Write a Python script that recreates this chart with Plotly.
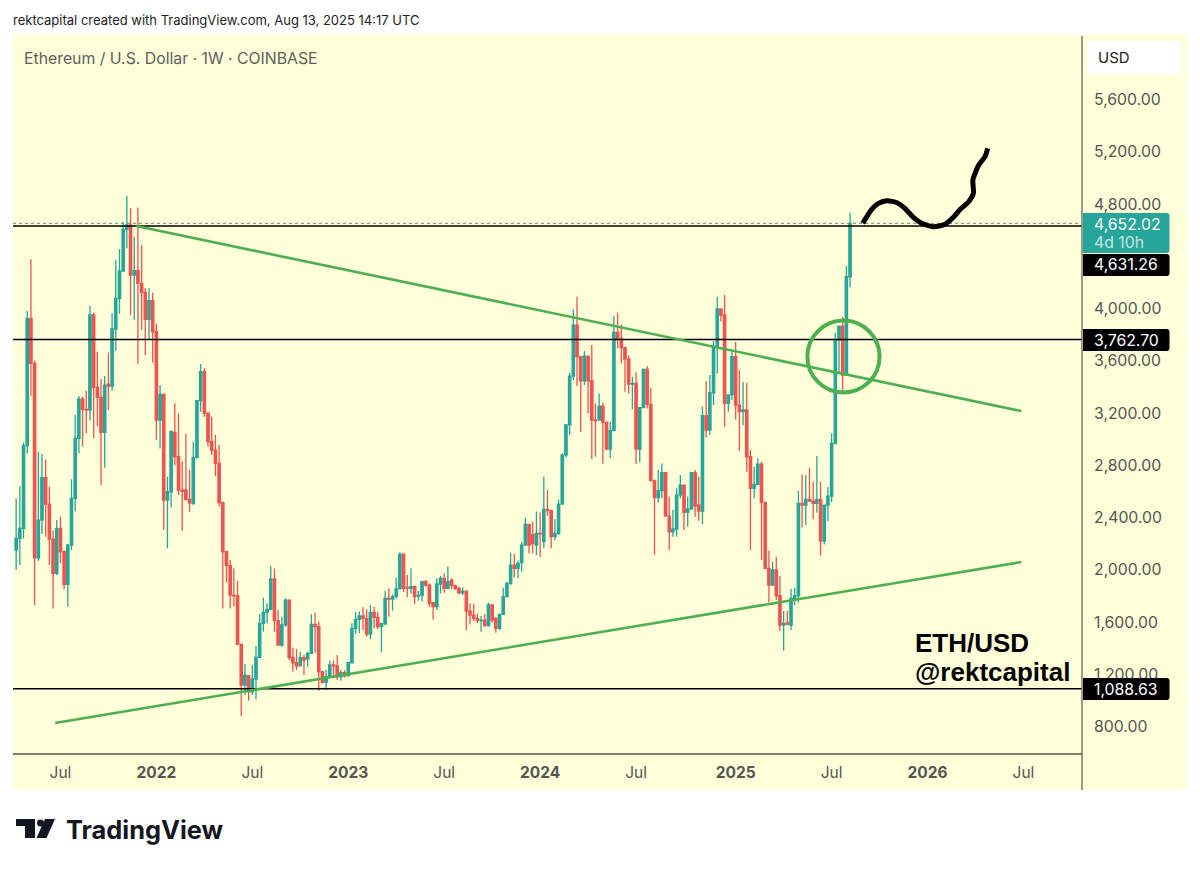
import pandas as pd
import plotly.graph_objects as go

# ETH/USD weekly candles
week_start = pd.date_range('2021-04-12', periods=227, freq='7D')

opens = [2150,2240,2316,2950,3924,3580,2092,2380,2705,2503,2235,1972,2317,2138,1888,2189,2546,3006,3307,3228,
         3222,3950,3396,3320,3052,3421,3406,3843,4077,4287,4606,4638,4256,4289,4192,4123,3917,4060,3822,3146,
         3342,2534,2597,3052,2865,2610,2610,2539,2508,2858,3294,3516,3197,2980,2916,2815,2513,2138,2031,1806,
         1799,1429,1117,1189,1066,1163,1329,1590,1674,1697,1929,1610,1424,1577,1768,1327,1288,1265,1327,1317,
         1360,1582,1564,1220,1138,1181,1271,1263,1181,1212,1187,1288,1551,1620,1646,1628,1508,1674,1636,1564,
         1585,1781,1775,1794,1853,2120,1865,1858,1870,1799,1804,1909,1883,1748,1717,1891,1934,1858,1921,1878,
         1858,1824,1837,1684,1653,1628,1610,1615,1572,1730,1628,1551,1659,1794,1896,2036,2011,2054,2189,2347,
         2266,2189,2279,2215,2462,2452,2253,2279,2503,2878,3108,3483,3873,3631,3447,3636,3447,3146,3146,3253,
         3128,2924,3065,3817,3771,3700,3613,3422,3427,2924,3241,3534,3266,2682,2552,2605,2743,2411,2291,2312,
         2572,2648,2439,2465,2743,2495,2449,3179,3070,3355,3708,3996,3950,3274,3338,3631,3261,3210,3223,2865,
         2623,2654,2809,2516,2010,1883,1998,1801,1577,1595,1577,1781,1801,2508,2495,2539,2526,2508,2539,2220,
         2495,2564,2967,3758,3865,3490,4243]
highs = [2546,2640,2972,3980,4376,3600,2904,2886,2845,2636,2300,2380,2406,2150,2197,2692,3184,3330,3325,3370,
         4021,3968,3669,3460,3483,3664,3963,4371,4455,4664,4861,4767,4550,4774,4486,4154,4154,4121,3886,3414,
         3350,2712,3070,3274,3197,2830,3039,2763,2980,3300,3575,3542,3210,3172,3031,2955,2520,2145,2074,2010,
         1914,1436,1278,1195,1270,1416,1661,1786,1743,2028,2010,1692,1640,1781,1775,1403,1393,1373,1350,1370,
         1659,1671,1602,1225,1232,1304,1304,1347,1235,1230,1295,1590,1674,1680,1712,1697,1730,1717,1679,1595,
         1840,1858,1810,1939,2133,2125,1960,2011,1880,1838,1915,1921,1895,1750,1934,1952,1972,2024,1934,1885,
         1870,1865,1840,1743,1738,1665,1646,1659,1750,1738,1634,1662,1863,1909,2131,2120,2070,2215,2399,2350,
         2368,2445,2439,2712,2610,2460,2386,2534,2891,3116,3509,3993,4090,3636,3674,3640,3720,3274,3350,3279,
         3135,3133,3942,3968,3878,3705,3640,3478,3511,3245,3540,3560,3394,2690,2763,2814,2750,2559,2457,2623,
         2725,2655,2560,2750,2763,2712,3248,3445,3491,3754,4090,4000,4103,3340,3669,3746,3529,3440,3432,2916,
         2789,2853,2827,2520,2146,2062,2100,1952,1684,1686,1852,1865,2605,2730,2725,2781,2674,2870,2674,2500,
         2631,3044,3817,3870,3937,4325,4733]
lows = [2000,2036,2240,2890,3330,1730,2069,2273,2253,2036,1704,1959,2049,1850,1717,2151,2445,2891,2942,3044,
        3141,3006,3100,2648,2781,3223,3370,3674,3960,4287,4460,3950,3912,3575,3835,3644,3764,3585,2993,2929,
        2304,2164,2477,2800,2572,2296,2530,2444,2495,2852,3210,3172,2942,2878,2717,2483,1704,1901,1704,1720,
        1423,880,1041,1000,1041,1008,1329,1526,1590,1690,1526,1420,1411,1564,1310,1220,1232,1265,1194,1258,
        1355,1365,1074,1130,1079,1169,1169,1156,1151,1176,1187,1285,1508,1513,1539,1488,1467,1551,1546,1368,
        1575,1641,1687,1780,1850,1832,1789,1819,1735,1763,1756,1870,1712,1620,1692,1819,1824,1850,1850,1845,
        1812,1807,1539,1582,1607,1590,1526,1563,1564,1595,1518,1539,1654,1789,1883,1940,1934,1985,2185,2126,
        2126,2113,2100,2164,2414,2164,2228,2266,2500,2860,3031,3452,3406,3052,3414,3197,2845,2865,3140,2814,
        2916,2853,3060,3695,3580,3363,3350,3228,2809,2822,3236,3235,2675,2113,2513,2546,2405,2151,2253,2253,
        2546,2304,2330,2460,2406,2375,2350,3013,3031,3261,3503,3900,3095,3210,3300,3151,2911,3108,2751,2151,
        2546,2650,2074,2010,1750,1883,1768,1533,1380,1577,1538,1730,1750,2324,2342,2520,2386,2437,2107,2194,
        2373,2516,2960,3503,3350,3490,4161]
closes = [2240,2316,2950,3924,3580,2092,2380,2705,2503,2235,1972,2317,2138,1888,2189,2546,3006,3307,3228,3222,
          3950,3396,3320,3052,3414,3406,3843,4077,4287,4606,4640,4256,4289,4192,4123,3917,4060,3822,3146,3342,
          2534,2597,3057,2865,2610,2600,2539,2513,2858,3294,3516,3197,2980,2916,2815,2513,2138,2031,1806,1800,
          1429,1117,1194,1066,1163,1329,1590,1674,1697,1929,1610,1424,1577,1768,1327,1288,1265,1326,1309,1360,
          1582,1564,1220,1138,1181,1271,1263,1181,1212,1187,1288,1551,1620,1646,1628,1508,1674,1636,1564,1590,
          1781,1775,1794,1853,2120,1858,1860,1870,1794,1804,1909,1883,1743,1717,1891,1934,1858,1909,1878,1858,
          1824,1837,1684,1653,1628,1610,1615,1572,1730,1615,1551,1659,1794,1896,2036,2011,2049,2189,2347,2189,
          2200,2279,2274,2462,2452,2253,2279,2503,2878,3108,3483,3873,3631,3447,3636,3447,3146,3140,3253,3128,
          2924,3065,3817,3771,3700,3613,3422,3427,2924,3241,3534,3266,2682,2552,2605,2743,2411,2291,2312,2572,
          2648,2439,2465,2743,2488,2449,3179,3070,3355,3708,3996,3950,3274,3338,3631,3261,3210,3223,2865,2623,
          2654,2809,2516,2010,1883,1998,1801,1577,1589,1582,1781,1801,2508,2495,2539,2526,2508,2539,2220,2495,
          2564,2967,3758,3865,3490,4243,4652.02]

# levels and drawings
level_top = 4631.26
level_mid = 3762.70
level_low = 1088.63
last_price = 4652.02

upper_trend_dates = ['2021-11-26', '2026-07-02']
upper_trend_prices = [4631, 3215]
lower_trend_dates = ['2021-06-25', '2026-07-02']
lower_trend_prices = [827, 2059]

squiggle_dates = ['2025-09-04', '2025-09-21', '2025-10-04', '2025-10-20', '2025-11-08', '2025-11-23',
                  '2025-12-09', '2025-12-25', '2026-01-16', '2026-02-07', '2026-02-23', '2026-03-08',
                  '2026-03-24', '2026-04-02', '2026-04-01', '2026-04-12', '2026-04-24', '2026-04-29']
squiggle_prices = [4652, 4759, 4805, 4825, 4810, 4767, 4698, 4652, 4626, 4644, 4698, 4759,
                   4817, 4882, 4983, 5098, 5162, 5226]

tick_dates = ['2021-07-05', '2022-01-03', '2022-07-04', '2023-01-02', '2023-07-03', '2024-01-01',
              '2024-07-01', '2025-01-06', '2025-07-07', '2026-01-05', '2026-07-06']
tick_labels = ['Jul', '<b>2022</b>', 'Jul', '<b>2023</b>', 'Jul', '<b>2024</b>', 'Jul', '<b>2025</b>', 'Jul', '<b>2026</b>', 'Jul']
price_ticks = [800, 1200, 1600, 2000, 2400, 2800, 3200, 3600, 4000, 4800, 5200, 5600]
price_labels = ['800.00', '1,200.00', '1,600.00', '2,000.00', '2,400.00', '2,800.00', '3,200.00', '3,600.00',
                '4,000.00', '4,800.00', '5,200.00', '5,600.00']

TEAL = '#26a69a'
RED = '#ef5350'
GREEN = '#4caf50'
PANEL = '#ffffd9'
GREY = '#555555'
FONT = 'Inter'

# plot area in page pixels
W, H = 1200, 869
LEFT, RIGHT, TOP, BOTTOM = 13, 1082, 36, 754


def px(x):
    return (x - LEFT) / (RIGHT - LEFT)


def py(y):
    return (BOTTOM - y) / (BOTTOM - TOP)


def round_box(x0, x1, y0, y1, color, r=3, left_round=False):
    # rounded rectangle in page pixels, axis price tags are square on the left
    rl = r if left_round else 0
    path = (f'M {px(x0 + rl)} {py(y0)} L {px(x1 - r)} {py(y0)} Q {px(x1)} {py(y0)} {px(x1)} {py(y0 + r)} '
            f'L {px(x1)} {py(y1 - r)} Q {px(x1)} {py(y1)} {px(x1 - r)} {py(y1)} L {px(x0 + rl)} {py(y1)} '
            f'Q {px(x0)} {py(y1)} {px(x0)} {py(y1 - rl)} L {px(x0)} {py(y0 + rl)} '
            f'Q {px(x0)} {py(y0)} {px(x0 + rl)} {py(y0)} Z')
    return dict(type='path', xref='paper', yref='paper', path=path, fillcolor=color, line_width=0)


fig = go.Figure()

fig.add_trace(go.Candlestick(
    x=week_start, open=opens, high=highs, low=lows, close=closes,
    increasing=dict(line=dict(color=TEAL, width=1.3), fillcolor=TEAL),
    decreasing=dict(line=dict(color=RED, width=1.3), fillcolor=RED),
    whiskerwidth=0, showlegend=False))

# horizontal levels
x_span = ['2021-04-06', '2026-10-25']
for lvl in [level_top, level_mid, level_low]:
    fig.add_trace(go.Scatter(x=x_span, y=[lvl, lvl], mode='lines', line=dict(color='#000000', width=1.5),
                             showlegend=False, hoverinfo='skip'))
fig.add_trace(go.Scatter(x=x_span, y=[last_price, last_price], mode='lines',
                         line=dict(color='#5f8f80', width=1, dash='dot'), showlegend=False, hoverinfo='skip'))

fig.add_trace(go.Scatter(x=upper_trend_dates, y=upper_trend_prices, mode='lines',
                         line=dict(color=GREEN, width=2.6), showlegend=False, hoverinfo='skip'))
fig.add_trace(go.Scatter(x=lower_trend_dates, y=lower_trend_prices, mode='lines',
                         line=dict(color=GREEN, width=2.6), showlegend=False, hoverinfo='skip'))
fig.add_trace(go.Scatter(x=squiggle_dates, y=squiggle_prices, mode='lines',
                         line=dict(color='#000000', width=5, shape='spline', smoothing=0.6),
                         showlegend=False, hoverinfo='skip'))

usd_button = round_box(1087, 1181, 41, 74, '#ffffff', r=5, left_round=True)
usd_button['layer'] = 'above'

shapes = [
    # yellow panel behind chart and axes
    dict(type='rect', xref='paper', yref='paper', x0=px(13), x1=px(1187), y0=py(790), y1=py(35),
         fillcolor=PANEL, line_width=0, layer='below'),
    # circle round the retest
    dict(type='circle', xref='x', yref='y', x0='2025-05-22', x1='2025-10-06', y0=3357, y1=3908,
         line=dict(color=GREEN, width=4)),
    # axis borders
    dict(type='line', xref='paper', yref='paper', x0=px(1082), x1=px(1082), y0=py(790), y1=py(36),
         line=dict(color='#7a7a6a', width=1.5)),
    dict(type='line', xref='paper', yref='paper', x0=px(13), x1=px(1082), y0=py(754), y1=py(754),
         line=dict(color='#55554a', width=1.5)),
    usd_button,
    # price boxes on the axis
    round_box(1083, 1169.5, 213, 253, TEAL),
    round_box(1083, 1169.5, 254, 276, '#000000'),
    round_box(1083, 1169.5, 329, 351, '#000000'),
    round_box(1083, 1169.5, 678, 700, '#000000'),
    # TradingView mark
    dict(type='path', xref='paper', yref='paper', fillcolor='#131722', line_width=0,
         path=f'M {px(16)} {py(819)} L {px(35)} {py(819)} L {px(35)} {py(838)} L {px(25)} {py(838)} '
              f'L {px(25)} {py(826)} L {px(16)} {py(826)} Z'),
    dict(type='circle', xref='paper', yref='paper', fillcolor='#131722', line_width=0,
         x0=px(37), x1=px(44), y0=py(826.5), y1=py(819.5)),
    dict(type='path', xref='paper', yref='paper', fillcolor='#131722', line_width=0,
         path=f'M {px(45)} {py(819)} L {px(55)} {py(819)} L {px(46.5)} {py(838)} L {px(36.5)} {py(838)} Z'),
]


def note(x, y, text, size, color, anchor='left', **kw):
    return dict(xref='paper', yref='paper', x=px(x), y=py(y), text=text, showarrow=False, xanchor=anchor,
                yanchor='middle', font=dict(size=size, color=color, family=kw.pop('family', FONT)), **kw)


annotations = [
    note(11, 20, 'rektcapital created with TradingView.com, Aug 13, 2025 14:17 UTC', 13, '#222222'),
    note(22, 59, 'Ethereum / U.S. Dollar · 1W · COINBASE', 15.8, '#5d6060'),
    note(1096, 58, 'USD', 15, '#222222'),
    note(1092, 224, '4,652.02', 15.8, '#ffffff'),
    note(1092, 243, '4d 10h', 15.8, '#c4e6e2'),
    note(1092, 264, '4,631.26', 15.8, '#ffffff'),
    note(1092, 340, '3,762.70', 15.8, '#ffffff'),
    note(1092, 689, '1,088.63', 15.8, '#ffffff'),
    note(913, 643, '<b>ETH/USD</b>', 26, '#000000', family='Liberation Sans'),
    note(913, 672, '<b>@rektcapital</b>', 26, '#000000', family='Liberation Sans'),
    note(63.5, 829, '<b>TradingView</b>', 25.4, '#131722'),
]

fig.update_layout(
    width=W, height=H,
    margin=dict(l=LEFT, r=W - RIGHT, t=TOP, b=H - BOTTOM),
    paper_bgcolor='#ffffff', plot_bgcolor=PANEL,
    shapes=shapes, annotations=annotations,
    hovermode=False, dragmode=False, boxgap=0.1,
    font=dict(family=FONT, color=GREY),
)
fig.update_xaxes(range=['2021-04-06', '2026-10-25'], tickvals=tick_dates, ticktext=tick_labels,
                 tickangle=0, showgrid=False, zeroline=False, showline=False, ticks='', rangeslider_visible=False,
                 tickfont=dict(size=15.5, color=GREY), ticklabelstandoff=7)
fig.update_yaxes(range=[589.5, 6086], tickvals=price_ticks, ticktext=price_labels, side='right',
                 showgrid=False, zeroline=False, showline=False, ticks='',
                 tickfont=dict(size=15.8, color=GREY), ticklabelstandoff=11)

fig.write_html('out.html', config={'displayModeBar': False}, post_script="document.body.style.margin='0';")
